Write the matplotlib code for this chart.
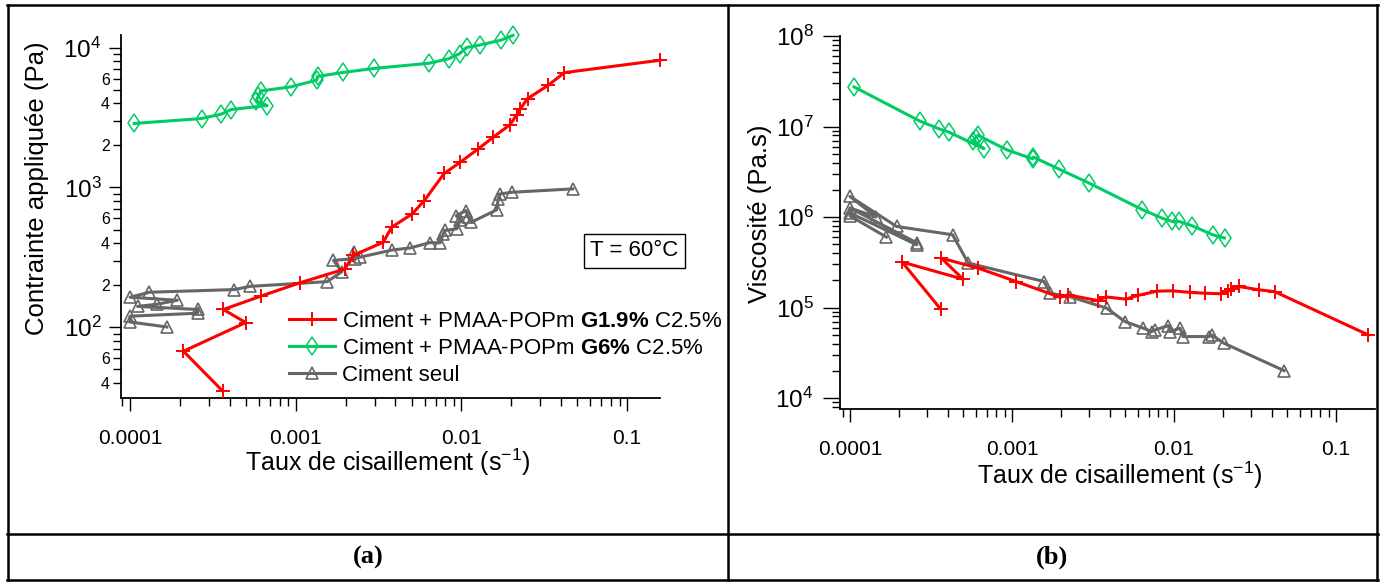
import numpy as np
import matplotlib
matplotlib.use('Agg')
import matplotlib.pyplot as plt
from matplotlib.ticker import LogLocator, FuncFormatter, NullFormatter, LogFormatterMathtext, FixedLocator
from matplotlib.lines import Line2D

plt.rcParams['font.family'] = ['Liberation Sans', 'DejaVu Sans']
plt.rcParams['mathtext.fontset'] = 'custom'
plt.rcParams['mathtext.rm'] = 'Liberation Sans'
plt.rcParams['mathtext.it'] = 'Liberation Sans:italic'
plt.rcParams['mathtext.bf'] = 'Liberation Sans:bold'

# ---------------- data ----------------
# Ciment + PMAA-POPm G1.9% C2.5%
rate_g19 = [3.63e-4, 2.10e-4, 4.99e-4, 3.66e-4, 6.17e-4, 1.06e-3, 1.98e-3, 2.22e-3,
            3.38e-3, 3.79e-3, 5.05e-3, 5.97e-3, 7.88e-3, 9.81e-3, 1.26e-2, 1.55e-2,
            1.96e-2, 2.16e-2, 2.26e-2, 2.51e-2, 3.35e-2, 4.18e-2, 0.158]
stress_g19 = [34.9, 67.4, 108, 134, 167, 208, 261, 326, 406, 519, 647, 805, 1260,
              1510, 1882, 2277, 2805, 3305, 3630, 4320, 5385, 6620, 8115]
visc_g19 = [9.6e4, 3.18e5, 2.06e5, 3.52e5, 2.73e5, 1.94e5, 1.30e5, 1.38e5, 1.195e5,
            1.31e5, 1.24e5, 1.36e5, 1.52e5, 1.53e5, 1.47e5, 1.44e5, 1.42e5, 1.53e5,
            1.61e5, 1.71e5, 1.57e5, 1.50e5, 4.99e4]

# Ciment + PMAA-POPm G6% C2.5%
rate_g6 = [1.06e-4, 2.70e-4, 3.56e-4, 4.08e-4, 6.72e-4, 5.76e-4, 5.96e-4, 6.17e-4,
           9.33e-4, 1.34e-3, 1.354e-3, 1.94e-3, 2.98e-3, 6.39e-3, 8.41e-3, 9.74e-3,
           1.076e-2, 1.295e-2, 1.73e-2, 2.05e-2]
stress_g6 = [2866, 3110, 3345, 3607, 3851, 4160, 4515, 4900, 5236, 5846, 6222, 6645,
             7096, 7727, 8334, 9045, 10017, 10436, 11293, 12240]
visc_g6 = [2.74e7, 1.148e7, 9.40e6, 8.67e6, 5.69e6, 7.0e6, 7.5e6, 8.0e6, 5.51e6,
           4.4e6, 4.6e6, 3.40e6, 2.38e6, 1.205e6, 9.75e5, 8.94e5, 8.94e5, 8.01e5,
           6.37e5, 5.86e5]

# Ciment seul (a)
rate_seul_a = [1.67e-4, 1.0e-4, 1.0e-4, 2.56e-4, 2.56e-4, 1.11e-4, 1.45e-4, 1.93e-4,
               1.0e-4, 1.31e-4, 4.26e-4, 5.3e-4, 1.55e-3, 1.90e-3, 1.69e-3, 2.27e-3,
               2.25e-3, 2.44e-3, 3.83e-3, 4.9e-3, 6.46e-3, 7.43e-3, 7.78e-3, 7.96e-3,
               9.38e-3, 9.81e-3, 9.3e-3, 1.066e-2, 1.10e-2, 1.15e-2, 1.63e-2, 1.67e-2,
               1.71e-2, 2.01e-2, 4.7e-2]
stress_seul = [100.5, 109, 120, 126, 134, 141, 146, 156, 164, 178, 186, 196, 212, 250,
               301, 309, 344, 317, 357, 369, 403, 401, 466, 492, 506, 580, 629, 683,
               612, 564, 691, 828, 898, 923, 976]

# Ciment seul (b)
rate_seul_b = [1.68e-4, 1.0e-4, 1.0e-4, 2.58e-4, 2.58e-4, 1.0e-4, 1.45e-4, 1.0e-4,
               1.94e-4, 4.3e-4, 5.37e-4, 1.576e-3, 1.72e-3, 2.27e-3, 3.84e-3, 4.98e-3,
               6.46e-3, 7.28e-3, 7.64e-3, 9.22e-3, 9.45e-3, 1.09e-2, 1.14e-2, 1.65e-2,
               1.71e-2, 2.03e-2, 4.78e-2]
visc_seul = [6.0e5, 1.03e6, 1.11e6, 4.94e5, 5.2e5, 1.26e6, 1.0e6, 1.69e6, 7.87e5,
             6.37e5, 3.1e5, 1.94e5, 1.44e5, 1.32e5, 9.85e4, 7.0e4, 5.92e4, 5.43e4,
             5.66e4, 6.32e4, 5.43e4, 5.92e4, 4.78e4, 4.78e4, 4.99e4, 4.04e4, 2.01e4]

labels = ['Ciment + PMAA-POPm $\\mathbf{G1.9\\%}$ C2.5%',
          'Ciment + PMAA-POPm $\\mathbf{G6\\%}$ C2.5%',
          'Ciment seul']
xticks = [0.0001, 0.001, 0.01, 0.1]

# ---------------- styles ----------------
RED = '#ff0000'
GREEN = '#00cc66'
GRAY = '#666666'
st_red = dict(color=RED, lw=2.2, marker='+', ms=9.5, mew=1.4)
st_green = dict(color=GREEN, lw=2.2, marker='d', ms=9.5, mfc='none', mew=1.1)
st_gray = dict(color=GRAY, lw=2.2, marker='^', ms=9, mfc='none', mew=1.2)

W, H = 1385, 582
fig = plt.figure(figsize=(W / 100, H / 100), dpi=100)


def px_axes(x0, x1, ytop, ybot):
    return fig.add_axes([x0 / W, 1 - ybot / H, (x1 - x0) / W, (ybot - ytop) / H])


def style_axes(ax):
    for s in ('top', 'right'):
        ax.spines[s].set_visible(False)
    for s in ('left', 'bottom'):
        ax.spines[s].set_linewidth(1.3)
    ax.set_xscale('log')
    ax.set_yscale('log')
    ax.xaxis.set_major_locator(FixedLocator(xticks))
    ax.xaxis.set_minor_locator(LogLocator(base=10, subs=np.arange(2, 10), numticks=20))
    ax.xaxis.set_major_formatter(FuncFormatter(lambda v, p: f'{v:g}'))
    ax.xaxis.set_minor_formatter(NullFormatter())
    ax.yaxis.set_major_locator(LogLocator(base=10, numticks=20))
    ax.yaxis.set_minor_locator(LogLocator(base=10, subs=np.arange(2, 10), numticks=20))
    ax.yaxis.set_major_formatter(LogFormatterMathtext())
    ax.tick_params(which='major', direction='out', length=9, width=1.0, labelsize=15)
    ax.tick_params(which='minor', direction='out', length=6, width=1.0)
    ax.tick_params(axis='x', which='major', pad=13)
    ax.tick_params(axis='y', which='major', labelsize=17.5, pad=5)


# ---------------- (a) ----------------
ax1 = px_axes(121, 660, 35, 398)
style_axes(ax1)
l1, = ax1.plot(rate_g19, stress_g19, clip_on=False, zorder=4, **st_red)
l2, = ax1.plot(rate_g6, stress_g6, clip_on=False, zorder=3, **st_green)
l3, = ax1.plot(rate_seul_a, stress_seul, clip_on=False, zorder=2, **st_gray)
ax1.set_xlim(8.82e-5, 0.158)
ax1.set_ylim(31.2, 12300)


def minor_fmt(v, p):
    m = v / 10 ** np.floor(np.log10(v) + 1e-9)
    r = int(round(m))
    return str(r) if r in (2, 4, 6) else ''


ax1.yaxis.set_minor_formatter(FuncFormatter(minor_fmt))
ax1.tick_params(axis='y', which='minor', labelsize=11.5, pad=2)
ax1.set_xlabel('Taux de cisaillement (s$^{-1}$)', fontsize=18)
ax1.xaxis.set_label_coords(0.495, -0.176)
ax1.xaxis.label.set_va('center')
ax1.set_ylabel('Contrainte appliquée (Pa)', fontsize=18.5, va='center')
ax1.yaxis.set_label_coords(-0.156, 0.578)

leg = ax1.legend([l1, l2, l3], labels, loc='upper left', frameon=False,
                 bbox_to_anchor=(289 / W, 1 - 311 / H), bbox_transform=fig.transFigure,
                 fontsize=16, handlelength=2.05, handletextpad=0.35, labelspacing=0.26,
                 borderpad=0, borderaxespad=0, numpoints=1)

fig.text(634.5 / W, 1 - 251 / H, 'T = 60°C', fontsize=16, ha='center', va='center',
         bbox=dict(boxstyle='square,pad=0.28', fc='white', ec='black', lw=1.0))

# ---------------- (b) ----------------
ax2 = px_axes(840, 1375, 36, 409)
style_axes(ax2)
ax2.plot(rate_g6, visc_g6, clip_on=False, zorder=3, **st_green)
ax2.plot(rate_seul_b, visc_seul, clip_on=False, zorder=2, **st_gray)
ax2.plot(rate_g19, visc_g19, clip_on=False, zorder=4, **st_red)
ax2.set_xlim(8.68e-5, 0.174)
ax2.set_ylim(7574, 1.0e8)
ax2.yaxis.set_minor_formatter(NullFormatter())
ax2.tick_params(axis='y', which='major', length=12, pad=7)
ax2.set_xlabel('Taux de cisaillement (s$^{-1}$)', fontsize=18)
ax2.xaxis.set_label_coords(0.523, -0.177)
ax2.xaxis.label.set_va('center')
ax2.set_ylabel('Viscosité (Pa.s)', fontsize=18.5, va='center')
ax2.yaxis.set_label_coords(-0.15, 0.523)


# ---------------- frame ----------------
def hline(y, x0, x1):
    fig.add_artist(Line2D([x0 / W, x1 / W], [1 - y / H, 1 - y / H], color='black', lw=1.8,
                          transform=fig.transFigure))


def vline(x, y0, y1):
    fig.add_artist(Line2D([x / W, x / W], [1 - y0 / H, 1 - y1 / H], color='black', lw=1.8,
                          transform=fig.transFigure))


hline(5, 7, 1378)
hline(534, 7, 1378)
hline(580, 7, 1378)
vline(8, 5, 580)
vline(728, 5, 580)
vline(1377, 5, 580)

fig.text(368 / W, 1 - 557 / H, '(a)', fontfamily='Liberation Serif', fontweight='bold',
         fontsize=19, ha='center', va='center')
fig.text(1052 / W, 1 - 557 / H, '(b)', fontfamily='Liberation Serif', fontweight='bold',
         fontsize=19, ha='center', va='center')

fig.savefig('out.png', dpi=100)
